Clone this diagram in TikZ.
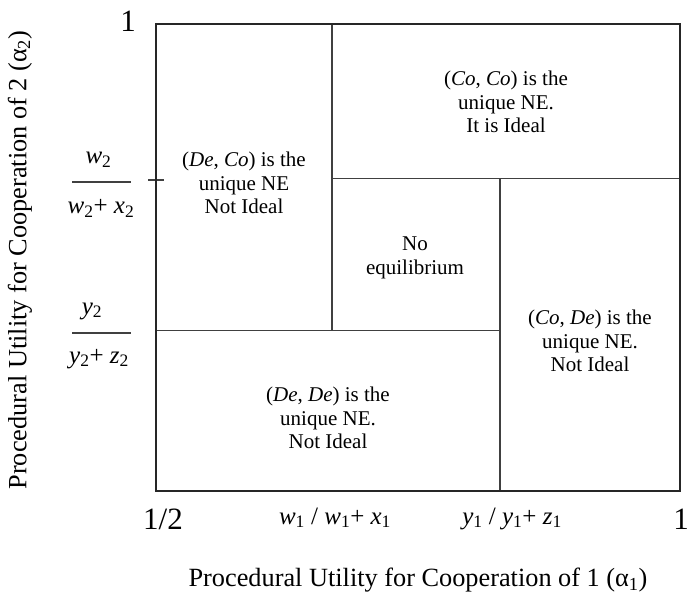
\documentclass[tikz,border=0pt]{standalone}
\usepackage{fontspec}
\setmainfont{Liberation Serif}
\newcommand\sbx[1]{\textsubscript{#1}}
\begin{document}
\begin{tikzpicture}[x=1pt,y=-1pt]
\useasboundingbox (0,0) rectangle (688,596);
\tikzset{
  region/.style={line width=1.2pt, draw=black!75},
  frame/.style={line width=1.5pt, draw=black!85},
  celltext/.style={align=center, font=\fontsize{21}{23.5}\selectfont, inner sep=0pt},
  ticklab/.style={font=\fontsize{31}{34}\selectfont, inner sep=0pt, anchor=base},
  varlab/.style={font=\fontsize{25}{28}\selectfont, inner sep=0pt, anchor=base},
  axislab/.style={font=\fontsize{26.3}{30}\selectfont, inner sep=0pt, anchor=base}
}
% frame corners and division points
\coordinate (TL) at (156,24);
\coordinate (BR) at (680,491);
\coordinate (a) at (332,24);
\coordinate (b) at (332,330.7);
\coordinate (c) at (156,330.7);
\coordinate (d) at (500,330.7);
\coordinate (e) at (332,178.7);
\coordinate (f) at (680,178.7);
\coordinate (g) at (500,178.7);
\coordinate (h) at (500,491);
\coordinate (t1) at (148,180);
\coordinate (t2) at (164,180);

\draw[region] (a) -- (b);
\draw[region] (c) -- (d);
\draw[region] (e) -- (f);
\draw[region] (g) -- (h);
\draw[region] (t1) -- (t2);
\draw[frame] (TL) rectangle (BR);

% cell texts
\node[celltext] (coco) at (506,102) {(\textit{Co}, \textit{Co}) is the\\unique NE.\\It is Ideal};
\node[celltext] (deco) at (244,183) {(\textit{De}, \textit{Co}) is the\\unique NE\\Not Ideal};
\node[celltext] (noeq) at (415,258) {No\\equilibrium};
\node[celltext] (code) at (590,341) {(\textit{Co}, \textit{De}) is the\\unique NE.\\Not Ideal};
\node[celltext] (dede) at (328,418) {(\textit{De}, \textit{De}) is the\\unique NE.\\Not Ideal};

% x tick labels
\node[ticklab] (xhalf) at (163,529) {1/2};
\node[varlab] (xw) at (335,524) {\textit{w}\sbx{1} / \textit{w}\sbx{1}+ \textit{x}\sbx{1}};
\node[varlab] (xy) at (512,524) {\textit{y}\sbx{1} / \textit{y}\sbx{1}+ \textit{z}\sbx{1}};
\node[ticklab] (xone) at (681,529) {1};

% y tick labels
\node[ticklab] (yone) at (128,32) {1};
\node[varlab] (wnum) at (98.5,164) {\textit{w}\sbx{2}};
\coordinate (wl1) at (72,182);
\coordinate (wl2) at (131,182);
\draw[region] (wl1) -- (wl2);
\node[varlab] (wden) at (101,214) {\textit{w}\sbx{2}+ \textit{x}\sbx{2}};
\node[varlab] (ynum) at (92,314) {\textit{y}\sbx{2}};
\coordinate (yl1) at (72,333);
\coordinate (yl2) at (131,333);
\draw[region] (yl1) -- (yl2);
\node[varlab] (yden) at (99,363) {\textit{y}\sbx{2}+ \textit{z}\sbx{2}};

% axis labels
\node[axislab] (xaxis) at (418,586.5) {Procedural Utility for Cooperation of 1 (α\sbx{1})};
\node[axislab, rotate=90] (yaxis) at (26.5,260) {Procedural Utility for Cooperation of 2 (α\sbx{2})};
\end{tikzpicture}
\end{document}
